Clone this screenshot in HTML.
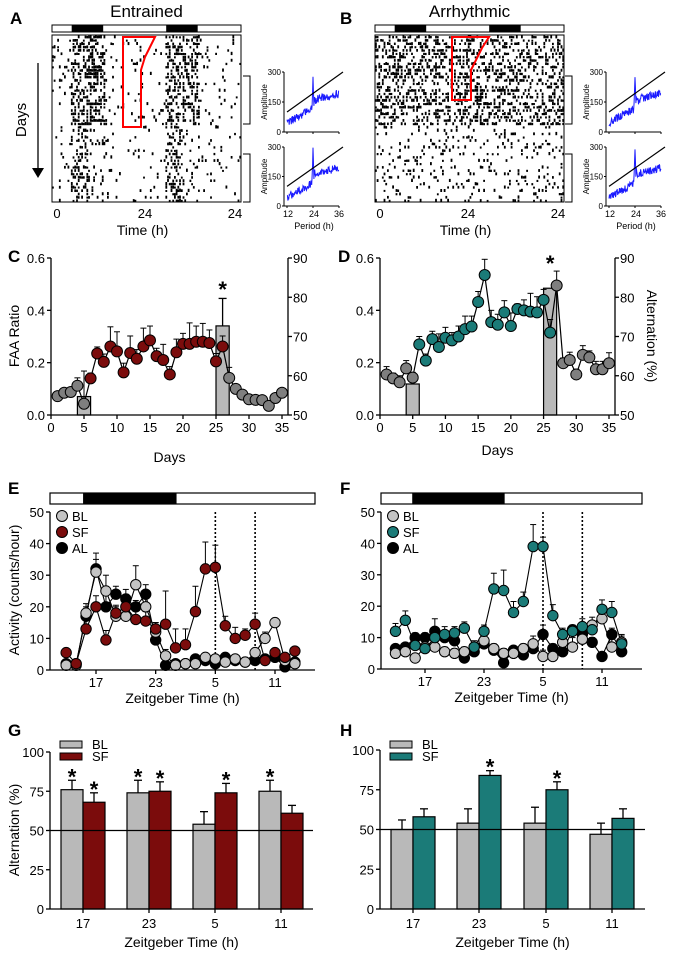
<!DOCTYPE html>
<html><head><meta charset="utf-8"><style>
body{margin:0;background:#fff;}
svg{display:block;font-family:"Liberation Sans",Arial,sans-serif;}
</style></head><body>
<svg id="fig" width="675" height="953" viewBox="0 0 675 953" xmlns="http://www.w3.org/2000/svg"></svg>
<script>
// ---------- DATA ----------
const days = Array.from({length:35},(_,i)=>i+1);
const cFaa = [0.072,0.085,0.088,0.112,0.043,0.14,0.235,0.203,0.262,0.243,0.163,0.237,0.215,0.262,0.285,0.225,0.21,0.155,0.24,0.272,0.272,0.28,0.28,0.275,0.205,0.262,0.142,0.1,0.078,0.06,0.058,0.057,0.035,0.065,0.085];
const cErr = [0.01,0.01,0.01,0.03,0.125,0.02,0.025,0.03,0.075,0.075,0.035,0.065,0.035,0.07,0.055,0.03,0.06,0.03,0.05,0.04,0.08,0.06,0.07,0.05,0.03,0.04,0.04,0.01,0.01,0.01,0.01,0.01,0.01,0.01,0.01];
const dFaa = [0.155,0.14,0.125,0.178,0.143,0.27,0.208,0.29,0.26,0.295,0.285,0.3,0.328,0.338,0.432,0.535,0.355,0.345,0.392,0.34,0.405,0.4,0.395,0.392,0.44,0.315,0.495,0.198,0.21,0.155,0.23,0.22,0.175,0.175,0.198];
const dErr = [0.03,0.02,0.025,0.03,0.02,0.03,0.025,0.03,0.05,0.04,0.03,0.04,0.05,0.04,0.04,0.06,0.045,0.04,0.045,0.05,0.02,0.04,0.07,0.06,0.04,0.05,0.055,0.02,0.03,0.02,0.035,0.025,0.03,0.03,0.04];
const altBarDays = [5,26];
const cAlt = [54.7,72.7];
const cAltErr = [0,7];
const dAlt = [57.9,82.3];
const dAltErr = [0,0];

const zt = Array.from({length:24},(_,i)=>i+14);
const eBL = [1.5,1.5,18,31,25,17,17,27,20,12,4.5,1.5,2,2,4,3.5,2.5,3.5,2.5,5.5,10,15,3,2];
const eSF = [5.5,2,13,20,9.5,18,20,16,15.5,13,14.5,7,8,18.5,32,32.5,14,10,11,14.5,3,5.5,4,6];
const eAL = [2,2,17,32,20,24,22.5,20,24,9.5,1.5,2,2,3.5,3,2,4,3,2.5,3,3.5,4,1,2.5];
const eBLerr = [0.5,0.5,3,4,5,3.5,3,6,3,3,2,0.5,0.5,0.5,0.5,0.5,0.5,0.5,0.5,1,2,1,0.5,0.5];
const eSFerr = [1,1,3,3.5,3,2,2,3,3,2,10.5,6,5,8,8.5,7,3,3.5,2,3.5,1,1,1,1];
const eALerr = [0.5,0.5,3,5,4,2.5,3,2,3,3,1,0.5,0.5,0.5,0.5,0.5,0.5,0.5,0.5,0.5,0.5,0.5,0.5,0.5];
const fBL = [5,5.5,3.5,7,7,5.5,5,5.5,7,9,6.5,5,5,6.5,8,4,4,8.5,7,9.5,14,16,7,8.5];
const fSF = [12,15.5,7.5,6.5,10,11,11.5,13,7,12,25.5,25,18,21.5,39,39,17,11,12,13.5,12.5,19,18,8];
const fAL = [6.5,7,10,10,12,10,9,3.5,5.5,8,6,2,6,4.5,6.5,11,6.5,5.5,12.5,11,8.5,4,11,5.5];
const fBLerr = [1,1,1,2,2,1.5,1.5,1.5,1,2,1.5,1.5,1.5,1.5,2.5,2,1.5,2.5,3,3,2.5,3,3.5,2.5];
const fSFerr = [2.5,3,2,2,3,2.5,2,2,2,2,5,6.5,3.5,3,7,3,3.5,2,2,2.5,2.5,3,3.5,2.5];
const fALerr = [1,1,1.5,1.5,4,2,2,1,1,1.5,1,1,1,1,1.5,3,1.5,1.5,1.5,1.5,1.5,1,2,1];

const gCats = ['17','23','5','11'];
const gBL = [76,74,54,75]; const gBLerr=[6,8,8,7]; const gBLstar=[1,1,0,1];
const gSF = [68,75,74,61]; const gSFerr=[6,6,6,5]; const gSFstar=[1,1,1,0];
const hBL = [50,54,54,47]; const hBLerr=[6,9,10,7]; const hBLstar=[0,0,0,0];
const hSF = [58,84,75,57]; const hSFerr=[5,3,5,6]; const hSFstar=[0,1,1,0];

const RED='#7b0c0c', TEAL='#1b7b78', GRAY='#7f7f7f', LGRAY='#c4c4c4', BAR='#b9b9b9';
const svg=document.getElementById('fig');
const NS='http://www.w3.org/2000/svg';
function nm(el,n){
  
  
}
function mk(tag,a,name,p){const e=document.createElementNS(NS,tag);for(const k in a)e.setAttribute(k,a[k]);nm(e,name);(p||svg).appendChild(e);return e;}
function txt(x,y,s,name,o){o=o||{};const e=mk('text',{x:x,y:y,'font-size':o.fs||13,'text-anchor':o.a||'middle','font-weight':o.w||'normal',fill:'#000'},name);if(o.rot)e.setAttribute('transform','rotate('+o.rot+' '+x+' '+y+')');e.textContent=s;return e;}
function line(x1,y1,x2,y2,name,o){o=o||{};return mk('line',{x1:x1,y1:y1,x2:x2,y2:y2,stroke:o.c||'#000','stroke-width':o.w||1.3,'stroke-dasharray':o.d||'none'},name);}
function lin(d0,d1,r0,r1){return v=>r0+(v-d0)/(d1-d0)*(r1-r0);}

// ---------- panel labels ----------
[['A',10,24],['B',340,24],['C',8,262],['D',338,262],['E',8,494],['F',340,494],['G',8,736],['H',340,736]].forEach(p=>txt(p[1],p[2],p[0],'panel-label-'+p[0].toLowerCase(),{fs:17,w:'bold',a:'start'}));

// ---------- actograms ----------
function hash(a,b,s){let h=Math.sin(a*127.1+b*311.7+s*74.7)*43758.5453;return h-Math.floor(h);}
function actogram(x0,title,mode,key,red){
  const w=189,y0=35,h=167;
  txt(x0+w/2,17,title,key+'-title',{fs:17});
  mk('rect',{x:x0,y:25,width:w,height:7,fill:'#fff',stroke:'#000','stroke-width':1},key+'-lightbar');
  mk('rect',{x:x0+w*5/48,y:25,width:w*8/48,height:7,fill:'#000'},key+'-darkbar-1');
  mk('rect',{x:x0+w*29/48,y:25,width:w*8/48,height:7,fill:'#000'},key+'-darkbar-2');
  mk('rect',{x:x0,y:y0,width:w,height:h,fill:'#fff',stroke:'#000','stroke-width':1},key+'-frame');
  const g=mk('g',{},key+'-activity');
  const rows=50,rh=h/rows,bins=110,bw=w/bins;
  for(let r=0;r<rows;r++)for(let b=0;b<bins;b++){
    const hr=(b/bins*48)%24;let p;
    if(mode===0){const dense=hr>4.5&&hr<13.5;p=dense?(r<27?0.45:0.4):(r<27?0.07:0.05);if(hr>9&&hr<13.5&&r>=27)p=0.12;}
    else{p=r<27?0.38:0.12;}
    if(hash(r,b,x0)<p){const hh=rh*(0.6+hash(b,r,x0+1)*0.4);mk('rect',{x:(x0+b*bw).toFixed(1),y:(y0+r*rh+rh-hh).toFixed(1),width:1.8,height:hh.toFixed(1),fill:'#000'},'activity-mark',g);}
  }
  mk('polygon',{points:red,fill:'none',stroke:'#f00','stroke-width':2},key+'-red-window');
  txt(x0+5,218,'0',key+'-x-tick-0');txt(x0+93,218,'24',key+'-x-tick-24');txt(x0+w-6,218,'24',key+'-x-tick-24b');
  txt(x0+w/2-4,235,'Time (h)',key+'-x-title',{fs:14});
}
actogram(52,'Entrained',0,'actogram-a','123,37 155,37 150,47 145,57 141,70 141,127 123,127');
actogram(375,'Arrhythmic',1,'actogram-b','452,37 489,37 482,48 477,58 471,70 471,100 452,100');
// days arrow
line(38,63,38,170,'days-arrow-line');
mk('polygon',{points:'32,168 44,168 38,178',fill:'#000'},'days-arrow-head');
txt(26,120,'Days','days-label',{fs:15,rot:-90});
// brackets + periodograms
function bracket(x,y1,y2,n){mk('polyline',{points:`${x},${y1} ${x+7},${y1} ${x+7},${y2} ${x},${y2}`,fill:'none',stroke:'#000','stroke-width':1},n);}
function periodogram(x0,y0,y1,key,seed){
  const w=55;const sx=lin(12,36,x0+3,x0+w),sy=lin(0,300,y1,y0);
  line(x0,y0,x0,y1,key+'-y-axis',{w:1});line(x0,y1,x0+w,y1,key+'-x-axis',{w:1});
  [0,150,300].forEach(v=>{line(x0-2,sy(v),x0,sy(v),key+'-ytick',{w:1});txt(x0-3,sy(v)+3,String(v),key+'-ytick-label',{fs:8,a:'end'});});
  [12,24,36].forEach(v=>line(sx(v),y1,sx(v),y1+2,key+'-xtick',{w:1}));
  let pts=[];
  for(let p=12;p<=36;p+=0.2){let base=p<23.5?45+(p-12)*6:(p<26?150:165+(p-26)*3);
    if(p>=23.6&&p<=24.4)base=150+130*(1-Math.abs(p-24)/0.4);
    if(p>24.4&&p<25.4)base=190-40*(p-24.4);
    const n=(hash(p*5,seed,3)-0.5)*40;pts.push(sx(p).toFixed(1)+','+sy(Math.max(15,base+n)).toFixed(1));}
  mk('polyline',{points:pts.join(' '),fill:'none',stroke:'#1a1aff','stroke-width':1},key+'-amplitude-line');
  line(sx(12),sy(100),x0+w+4,sy(300),key+'-significance-line',{w:1.2});
  txt(x0-17,(y0+y1)/2,'Amplitude',key+'-y-title',{fs:8,rot:-90});
}
[[284,243,'a'],[606,565,'b']].forEach((q,i)=>{
  bracket(q[1],76,124,'bracket-'+q[2]+'-1');bracket(q[1],154,202,'bracket-'+q[2]+'-2');
  periodogram(q[0],72,132,'periodogram-'+q[2]+'-1',i*2+1);
  periodogram(q[0],147,206,'periodogram-'+q[2]+'-2',i*2+2);
  txt(q[0]+4,217,'12','period-tick-12',{fs:9});txt(q[0]+30,217,'24','period-tick-24',{fs:9});txt(q[0]+55,217,'36','period-tick-36',{fs:9});
  txt(q[0]+30,229,'Period (h)','period-title',{fs:9});
});

// ---------- C & D ----------
function faaPanel(o){
  const sx=lin(0,35,o.x0,o.x1),sy=lin(0,0.6,415,258),sa=lin(50,90,415,258);
  const k=o.key;
  altBarDays.forEach((d,i)=>{
    mk('rect',{x:sx(d-1),y:sa(o.alt[i]),width:sx(2)-sx(0),height:415-sa(o.alt[i]),fill:BAR,stroke:'#000','stroke-width':1.2},k+'-alternation-bar');
    if(o.altErr[i]>0){line(sx(d),sa(o.alt[i]),sx(d),sa(o.alt[i]+o.altErr[i]),k+'-bar-error');line(sx(d)-4,sa(o.alt[i]+o.altErr[i]),sx(d)+4,sa(o.alt[i]+o.altErr[i]),k+'-bar-error-cap');}
  });
  txt(sx(26),o.starY,'*',k+'-significance-star',{fs:22,w:'bold'});
  mk('polyline',{points:days.map((d,i)=>sx(d)+','+sy(o.v[i])).join(' '),fill:'none',stroke:'#000','stroke-width':1.2},k+'-faa-line');
  days.forEach((d,i)=>{const y=sy(o.v[i]),ye=sy(o.v[i]+o.e[i]);line(sx(d),y,sx(d),ye,k+'-error-bar',{w:1});line(sx(d)-3,ye,sx(d)+3,ye,k+'-error-cap',{w:1});});
  days.forEach((d,i)=>{const c=(d>=6&&d<=26)?o.col:GRAY;mk('circle',{cx:sx(d),cy:sy(o.v[i]),r:5.5,fill:c,stroke:'#000','stroke-width':1},k+'-faa-point-day-'+d);});
  line(o.x0,258,o.x0,415,k+'-left-axis');line(o.x0,415,o.xr,415,k+'-x-axis');line(o.xr,258,o.xr,415,k+'-right-axis');
  [0,0.2,0.4,0.6].forEach(v=>{line(o.x0-4,sy(v),o.x0,sy(v),k+'-left-tick');txt(o.x0-6,sy(v)+5,v.toFixed(1),k+'-left-tick-label',{a:'end'});});
  [50,60,70,80,90].forEach(v=>{line(o.xr,sa(v),o.xr+4,sa(v),k+'-right-tick');txt(o.xr+5,sa(v)+5,String(v),k+'-right-tick-label',{a:'start'});});
  [0,5,10,15,20,25,30,35].forEach(v=>{line(sx(v),415,sx(v),419,k+'-x-tick');txt(sx(v),432,String(v),k+'-x-tick-label');});
  txt((o.x0+o.xr)/2,o.titleY,'Days',k+'-x-title',{fs:14});
}
faaPanel({key:'panel-c',x0:51,x1:282,xr:288,v:cFaa,e:cErr,alt:cAlt,altErr:cAltErr,col:RED,starY:297,titleY:462});
faaPanel({key:'panel-d',x0:380,x1:609,xr:615,v:dFaa,e:dErr,alt:dAlt,altErr:dAltErr,col:TEAL,starY:271,titleY:455});
txt(19,336,'FAA Ratio','panel-c-y-title',{fs:14,rot:-90});
txt(647,336,'Alternation (%)','panel-d-right-y-title',{fs:14,rot:90});

// ---------- E & F ----------
function actPanel(o){
  const k=o.key;const sx=lin(17,35,o.t17,o.t11),sy=lin(0,50,o.y0,512);
  mk('rect',{x:o.x0,y:493,width:o.xe-o.x0,height:11,fill:'#fff',stroke:'#000','stroke-width':1.2},k+'-light-bar');
  mk('rect',{x:sx(15.7),y:493,width:sx(25.1)-sx(15.7),height:11,fill:'#000'},k+'-dark-bar');
  [29,33].forEach(t=>line(sx(t),512,sx(t),o.y0,k+'-dotted-line',{d:'2,2',w:1.6}));
  const ser=[[o.al,o.ale,'#000','al'],[o.bl,o.ble,LGRAY,'bl'],[o.sf,o.sfe,o.col,'sf']];
  ser.forEach(s=>mk('polyline',{points:zt.map((t,i)=>sx(t)+','+sy(s[0][i])).join(' '),fill:'none',stroke:'#000','stroke-width':1.1},k+'-'+s[3]+'-line'));
  ser.forEach(s=>zt.forEach((t,i)=>{const y=sy(s[0][i]),ye=sy(s[0][i]+s[1][i]);line(sx(t),y,sx(t),ye,k+'-'+s[3]+'-error',{w:1});line(sx(t)-3,ye,sx(t)+3,ye,k+'-'+s[3]+'-error-cap',{w:1});}));
  ser.forEach(s=>zt.forEach((t,i)=>mk('circle',{cx:sx(t),cy:sy(s[0][i]),r:5.2,fill:s[2],stroke:'#000','stroke-width':1},k+'-'+s[3]+'-point')));
  line(o.x0,512,o.x0,o.y0,k+'-y-axis');line(o.x0,o.y0,o.xe,o.y0,k+'-x-axis');
  [0,10,20,30,40,50].forEach(v=>{line(o.x0-4,sy(v),o.x0,sy(v),k+'-y-tick');txt(o.x0-6,sy(v)+5,String(v),k+'-y-tick-label',{a:'end'});});
  [[17,'17'],[23,'23'],[29,'5'],[35,'11']].forEach(t=>{line(sx(t[0]),o.y0,sx(t[0]),o.y0+4,k+'-x-tick');txt(sx(t[0]),o.y0+17,t[1],k+'-x-tick-label');});
  txt((o.x0+o.xe)/2,o.y0+33,'Zeitgeber Time (h)',k+'-x-title',{fs:14});
  [['BL',LGRAY,0],[o.sfName,o.col,1],['AL','#000',2]].forEach(l=>{
    mk('circle',{cx:o.x0+12,cy:516+l[2]*16,r:5.5,fill:l[1],stroke:'#000','stroke-width':1},k+'-legend-marker-'+l[0].toLowerCase());
    txt(o.x0+22,521+l[2]*16,l[0],k+'-legend-label-'+l[0].toLowerCase(),{a:'start'});
  });
}
actPanel({key:'panel-e',x0:50,xe:315,y0:670,t17:96,t11:275,bl:eBL,sf:eSF,al:eAL,ble:eBLerr,sfe:eSFerr,ale:eALerr,col:RED,sfName:'SF'});
actPanel({key:'panel-f',x0:381,xe:642,y0:669,t17:425,t11:602,bl:fBL,sf:fSF,al:fAL,ble:fBLerr,sfe:fSFerr,ale:fALerr,col:TEAL,sfName:'SF'});
txt(19,590,'Activity (counts/hour)','panel-e-y-title',{fs:14,rot:-90});

// ---------- G & H ----------
function barPanel(o){
  const k=o.key;const sy=lin(0,100,909,o.ytop);const bw=22;
  const gs=[[o.bl,o.ble,o.bls,BAR,-1,'bl'],[o.sf,o.sfe,o.sfs,o.col,0,'sf']];
  gs.forEach(s=>gCats.forEach((c,i)=>{
    const x=o.cx[i]+s[4]*bw;const y=sy(s[0][i]);const ye=sy(s[0][i]+s[1][i]);
    line(x+bw/2,y,x+bw/2,ye,k+'-'+s[5]+'-error');line(x+bw/2-4,ye,x+bw/2+4,ye,k+'-'+s[5]+'-error-cap');
    mk('rect',{x:x,y:y,width:bw,height:909-y,fill:s[3],stroke:'#000','stroke-width':1.2},k+'-bar-'+s[5]+'-'+c);
    if(s[2][i])txt(x+bw/2,ye+4,'*',k+'-significance-star',{fs:22,w:'bold'});
  }));
  line(o.x0,sy(50),o.xe,sy(50),k+'-chance-line');
  line(o.x0,o.ytop,o.x0,909,k+'-y-axis');line(o.x0,909,o.xe,909,k+'-x-axis');
  [0,25,50,75,100].forEach(v=>{line(o.x0-4,sy(v),o.x0,sy(v),k+'-y-tick');txt(o.x0-6,sy(v)+5,String(v),k+'-y-tick-label',{a:'end'});});
  gCats.forEach((c,i)=>{line(o.cx[i],909,o.cx[i],913,k+'-x-tick');txt(o.cx[i],928,c,k+'-x-tick-label');});
  txt((o.x0+o.xe)/2,947,'Zeitgeber Time (h)',k+'-x-title',{fs:14});
  mk('rect',{x:o.x0+10,y:741,width:22,height:7,fill:BAR,stroke:'#000','stroke-width':1},k+'-legend-swatch-bl');
  mk('rect',{x:o.x0+10,y:753,width:22,height:7,fill:o.col,stroke:'#000','stroke-width':1},k+'-legend-swatch-sf');
  txt(o.x0+42,749,'BL',k+'-legend-label-bl',{a:'start'});txt(o.x0+42,761,'SF',k+'-legend-label-sf',{a:'start'});
}
barPanel({key:'panel-g',x0:50,xe:313,ytop:752,cx:[83,149,215,281],bl:gBL,ble:gBLerr,bls:gBLstar,sf:gSF,sfe:gSFerr,sfs:gSFstar,col:RED});
barPanel({key:'panel-h',x0:380,xe:645,ytop:750,cx:[413,479,546,612],bl:hBL,ble:hBLerr,bls:hBLstar,sf:hSF,sfe:hSFerr,sfs:hSFstar,col:TEAL});
txt(19,830,'Alternation (%)','panel-g-y-title',{fs:14,rot:-90});
</script>
</body></html>
